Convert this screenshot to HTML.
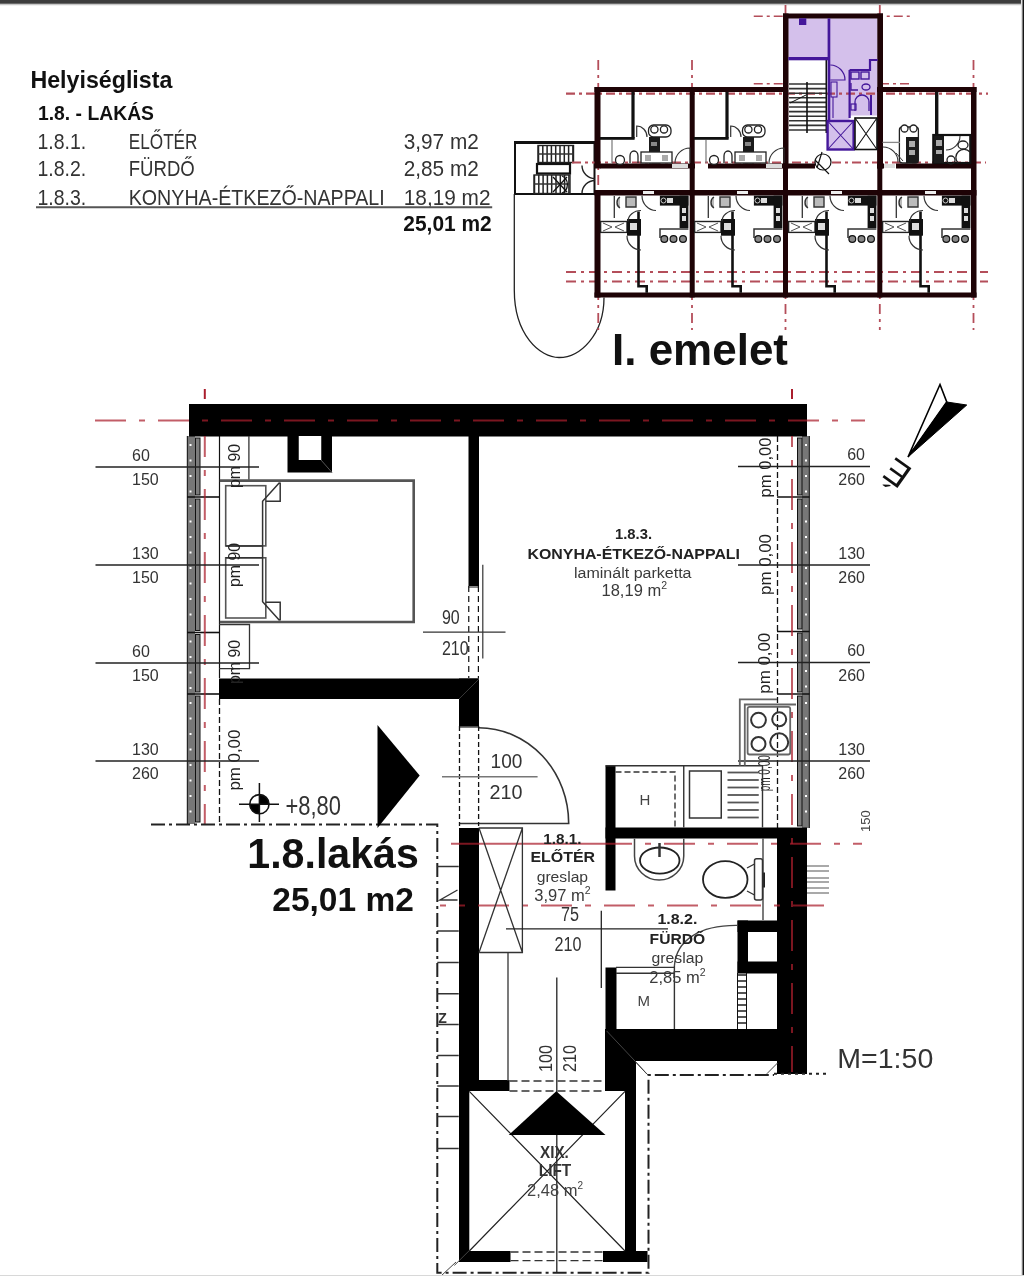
<!DOCTYPE html>
<html><head><meta charset="utf-8">
<style>
html,body{margin:0;padding:0;background:#fff;}
body{width:1024px;height:1276px;position:relative;overflow:hidden;font-family:"Liberation Sans",sans-serif;}
#topbar{position:absolute;left:0;top:0;width:1024px;height:6px;background:linear-gradient(#3d3d3d 0px,#3d3d3d 3px,#6a6a6a 3px,#6a6a6a 4px,#c8c8c8 4px,#c8c8c8 5px,#f0f0f0 5px,#f0f0f0 6px);}
#topsh{display:none;}
#rbar{position:absolute;right:0;top:0;width:3px;height:1276px;background:linear-gradient(90deg,#e0e0e0 0px,#e0e0e0 1px,#808080 1px,#808080 2px,#151515 2px,#151515 3px);}
#bline{position:absolute;left:0;bottom:0;width:1024px;height:1px;background:#d8d8d8;}
svg{position:absolute;left:0;top:0;filter:blur(0.45px);}
</style></head><body>
<div id="topbar"></div><div id="topsh"></div>
<svg width="1024" height="1276" viewBox="0 0 1024 1276">
<rect x="788.30" y="18.30" width="39.70" height="39.20" fill="#d4c0eb" />
<rect x="830.00" y="18.30" width="47.60" height="51.70" fill="#d4c0eb" />
<rect x="830.00" y="57.00" width="19.60" height="64.00" fill="#d4c0eb" />
<rect x="849.00" y="70.00" width="28.60" height="45.50" fill="#d4c0eb" />
<rect x="827.60" y="121.00" width="26.00" height="28.50" fill="#d4c0eb" />
<rect x="515" y="142" width="79.5" height="52" fill="none" stroke="#111" stroke-width="2"/>
<rect x="538" y="145.5" width="35.5" height="17" fill="#fff" stroke="#222" stroke-width="1.4"/>
<line x1="538.50" y1="145.50" x2="538.50" y2="162.50" stroke="#222" stroke-width="1.5" />
<line x1="542.80" y1="145.50" x2="542.80" y2="162.50" stroke="#222" stroke-width="1.5" />
<line x1="547.10" y1="145.50" x2="547.10" y2="162.50" stroke="#222" stroke-width="1.5" />
<line x1="551.40" y1="145.50" x2="551.40" y2="162.50" stroke="#222" stroke-width="1.5" />
<line x1="555.70" y1="145.50" x2="555.70" y2="162.50" stroke="#222" stroke-width="1.5" />
<line x1="560.00" y1="145.50" x2="560.00" y2="162.50" stroke="#222" stroke-width="1.5" />
<line x1="564.30" y1="145.50" x2="564.30" y2="162.50" stroke="#222" stroke-width="1.5" />
<line x1="568.60" y1="145.50" x2="568.60" y2="162.50" stroke="#222" stroke-width="1.5" />
<line x1="572.90" y1="145.50" x2="572.90" y2="162.50" stroke="#222" stroke-width="1.5" />
<line x1="538.00" y1="154.00" x2="573.50" y2="154.00" stroke="#333" stroke-width="1.3" />
<rect x="537.00" y="164.00" width="33.00" height="9.50" fill="#fff" stroke="#111" stroke-width="2.2"/>
<rect x="534" y="175" width="36" height="18.5" fill="#fff" stroke="#222" stroke-width="1.4"/>
<line x1="534.50" y1="175.00" x2="534.50" y2="193.50" stroke="#222" stroke-width="1.5" />
<line x1="538.80" y1="175.00" x2="538.80" y2="193.50" stroke="#222" stroke-width="1.5" />
<line x1="543.10" y1="175.00" x2="543.10" y2="193.50" stroke="#222" stroke-width="1.5" />
<line x1="547.40" y1="175.00" x2="547.40" y2="193.50" stroke="#222" stroke-width="1.5" />
<line x1="551.70" y1="175.00" x2="551.70" y2="193.50" stroke="#222" stroke-width="1.5" />
<line x1="556.00" y1="175.00" x2="556.00" y2="193.50" stroke="#222" stroke-width="1.5" />
<line x1="560.30" y1="175.00" x2="560.30" y2="193.50" stroke="#222" stroke-width="1.5" />
<line x1="564.60" y1="175.00" x2="564.60" y2="193.50" stroke="#222" stroke-width="1.5" />
<line x1="568.90" y1="175.00" x2="568.90" y2="193.50" stroke="#222" stroke-width="1.5" />
<line x1="534.00" y1="184.00" x2="570.00" y2="184.00" stroke="#333" stroke-width="1.3" />
<path d="M553,177 L567,192 M567,177 L553,192 M562,176 A8,9 0 0 1 562,193" stroke="#111" stroke-width="1.3" fill="none"/>
<line x1="515.00" y1="142.50" x2="594.50" y2="142.50" stroke="#111" stroke-width="3" />
<path d="M582,165.5 A13,13 0 0 0 595,178.5 M582,193.5 A13,13 0 0 1 595,180.5" stroke="#222" stroke-width="1.4" fill="none"/>
<path d="M514.3,194 V290 C514.3,335 540,357.5 559,357.5 C580,357.5 604,335 604,297.5" stroke="#222" stroke-width="1.3" fill="none"/>
<line x1="753.75" y1="16.25" x2="912.50" y2="16.25" stroke="#b44e5a" stroke-width="1.6" stroke-dasharray="9 4 3 4"/>
<line x1="753.75" y1="83.75" x2="785.00" y2="83.75" stroke="#b44e5a" stroke-width="1.6" stroke-dasharray="9 4 3 4"/>
<line x1="880.00" y1="83.75" x2="912.50" y2="83.75" stroke="#b44e5a" stroke-width="1.6" stroke-dasharray="9 4 3 4"/>
<line x1="566.00" y1="93.60" x2="988.00" y2="93.60" stroke="#b44e5a" stroke-width="2.2" stroke-dasharray="9 4 3 4"/>
<line x1="572.00" y1="162.50" x2="986.00" y2="162.50" stroke="#b44e5a" stroke-width="1.8" stroke-dasharray="9 4 3 4"/>
<line x1="566.00" y1="272.00" x2="988.00" y2="272.00" stroke="#b44e5a" stroke-width="1.8" stroke-dasharray="10 5 3 5"/>
<line x1="566.00" y1="281.50" x2="988.00" y2="281.50" stroke="#b44e5a" stroke-width="1.8" stroke-dasharray="10 5 3 5"/>
<line x1="598.25" y1="60.00" x2="598.25" y2="330.00" stroke="#b44e5a" stroke-width="1.8" stroke-dasharray="10 5 3 5"/>
<line x1="692.00" y1="60.00" x2="692.00" y2="330.00" stroke="#b44e5a" stroke-width="1.8" stroke-dasharray="10 5 3 5"/>
<line x1="785.50" y1="5.00" x2="785.50" y2="330.00" stroke="#b44e5a" stroke-width="1.8" stroke-dasharray="10 5 3 5"/>
<line x1="879.80" y1="5.00" x2="879.80" y2="330.00" stroke="#b44e5a" stroke-width="1.8" stroke-dasharray="10 5 3 5"/>
<line x1="973.50" y1="60.00" x2="973.50" y2="330.00" stroke="#b44e5a" stroke-width="1.8" stroke-dasharray="10 5 3 5"/>
<rect x="594.50" y="87.00" width="193.50" height="5.00" fill="#1e0306" />
<rect x="877.00" y="87.00" width="99.50" height="5.00" fill="#1e0306" />
<rect x="783.00" y="13.50" width="100.00" height="5.00" fill="#1e0306" />
<rect x="783.00" y="13.50" width="5.50" height="155.00" fill="#1e0306" />
<rect x="877.30" y="13.50" width="5.70" height="155.00" fill="#1e0306" />
<rect x="594.50" y="87.00" width="6.00" height="81.50" fill="#1e0306" />
<rect x="594.50" y="190.00" width="6.00" height="107.50" fill="#1e0306" />
<rect x="971.00" y="87.00" width="5.50" height="210.50" fill="#1e0306" />
<rect x="594.50" y="292.50" width="382.00" height="5.00" fill="#1e0306" />
<rect x="600.00" y="163.50" width="95.00" height="5.00" fill="#1e0306" />
<rect x="708.00" y="163.50" width="80.00" height="5.00" fill="#1e0306" />
<rect x="788.00" y="163.50" width="27.00" height="5.00" fill="#1e0306" />
<rect x="877.00" y="163.50" width="7.00" height="5.00" fill="#1e0306" />
<rect x="896.00" y="163.50" width="80.00" height="5.00" fill="#1e0306" />
<rect x="594.50" y="190.00" width="382.00" height="5.50" fill="#1e0306" />
<rect x="689.70" y="87.00" width="5.00" height="210.50" fill="#1e0306" />
<rect x="783.00" y="87.00" width="5.00" height="210.50" fill="#1e0306" />
<rect x="877.30" y="87.00" width="5.00" height="210.50" fill="#1e0306" />
<rect x="631.40" y="92.00" width="3.20" height="46.50" fill="#111" />
<rect x="600.00" y="137.00" width="34.60" height="2.80" fill="#111" />
<line x1="612.00" y1="140.00" x2="612.00" y2="163.00" stroke="#777" stroke-width="1.2" />
<path d="M636.7,137 V126 A10.3,11 0 0 1 647,137" transform="translate(0,0)" stroke="#333" stroke-width="1.2" fill="none"/>
<rect x="648.5" y="125" width="22.5" height="12" rx="5" fill="#fff" stroke="#222" stroke-width="1.3"/>
<circle cx="654.4" cy="129.4" r="3.6" fill="#fff" stroke="#222" stroke-width="1.3"/>
<circle cx="664" cy="129.4" r="3.6" fill="#fff" stroke="#222" stroke-width="1.3"/>
<rect x="649.00" y="137.00" width="11.00" height="26.50" fill="#1a1a1a" />
<rect x="651.00" y="142.00" width="6.00" height="4.00" fill="#888" />
<path d="M675,163 A15,15 0 0 1 690,148 V163" transform="translate(0,0)" stroke="#333" stroke-width="1.1" fill="none"/>
<rect x="641" y="152" width="31" height="11" fill="#fff" stroke="#222" stroke-width="1.3"/>
<rect x="645.00" y="155.00" width="6.00" height="6.00" fill="#aaa" />
<rect x="662.00" y="155.00" width="6.00" height="6.00" fill="#aaa" />
<circle cx="620" cy="160" r="4.5" fill="#fff" stroke="#222" stroke-width="1.3"/>
<path d="M630,163 V156 A4,5 0 0 1 638,156 V163" transform="translate(0,0)" stroke="#222" stroke-width="1.3" fill="none"/>
<rect x="672.00" y="164.00" width="16.00" height="4.00" fill="#ddd" />
<rect x="725.40" y="92.00" width="3.20" height="46.50" fill="#111" />
<rect x="694.00" y="137.00" width="34.60" height="2.80" fill="#111" />
<line x1="706.00" y1="140.00" x2="706.00" y2="163.00" stroke="#777" stroke-width="1.2" />
<path d="M636.7,137 V126 A10.3,11 0 0 1 647,137" transform="translate(94,0)" stroke="#333" stroke-width="1.2" fill="none"/>
<rect x="742.5" y="125" width="22.5" height="12" rx="5" fill="#fff" stroke="#222" stroke-width="1.3"/>
<circle cx="748.4" cy="129.4" r="3.6" fill="#fff" stroke="#222" stroke-width="1.3"/>
<circle cx="758" cy="129.4" r="3.6" fill="#fff" stroke="#222" stroke-width="1.3"/>
<rect x="743.00" y="137.00" width="11.00" height="26.50" fill="#1a1a1a" />
<rect x="745.00" y="142.00" width="6.00" height="4.00" fill="#888" />
<path d="M675,163 A15,15 0 0 1 690,148 V163" transform="translate(94,0)" stroke="#333" stroke-width="1.1" fill="none"/>
<rect x="735" y="152" width="31" height="11" fill="#fff" stroke="#222" stroke-width="1.3"/>
<rect x="739.00" y="155.00" width="6.00" height="6.00" fill="#aaa" />
<rect x="756.00" y="155.00" width="6.00" height="6.00" fill="#aaa" />
<circle cx="714" cy="160" r="4.5" fill="#fff" stroke="#222" stroke-width="1.3"/>
<path d="M630,163 V156 A4,5 0 0 1 638,156 V163" transform="translate(94,0)" stroke="#222" stroke-width="1.3" fill="none"/>
<rect x="766.00" y="164.00" width="16.00" height="4.00" fill="#ddd" />
<rect x="935.00" y="92.00" width="3.40" height="45.00" fill="#111" />
<rect x="933.3" y="135" width="37" height="28" fill="none" stroke="#111" stroke-width="2.2"/>
<rect x="934.00" y="136.00" width="10.00" height="27.00" fill="#1a1a1a" />
<rect x="936.00" y="140.00" width="6.00" height="6.00" fill="#aaa" />
<rect x="936.00" y="150.00" width="6.00" height="4.00" fill="#aaa" />
<path d="M946,150 A14,14 0 0 0 960,136" stroke="#333" stroke-width="1.1" fill="none"/>
<ellipse cx="963" cy="145" rx="5" ry="4" fill="#fff" stroke="#222" stroke-width="1.3"/>
<path d="M958,163 A8,8 0 0 1 970,152" stroke="#222" stroke-width="1.3" fill="none"/>
<circle cx="951" cy="160" r="4" fill="none" stroke="#222" stroke-width="1.3"/>
<rect x="899.4" y="127" width="19" height="36" rx="3" fill="#fff" stroke="#222" stroke-width="1.3"/>
<circle cx="904.5" cy="128.5" r="3.5" fill="#fff" stroke="#222" stroke-width="1.3"/>
<circle cx="913.5" cy="128.5" r="3.5" fill="#fff" stroke="#222" stroke-width="1.3"/>
<rect x="906.00" y="137.00" width="12.40" height="26.00" fill="#1a1a1a" />
<rect x="909.00" y="141.00" width="6.00" height="6.00" fill="#aaa" />
<rect x="909.00" y="150.00" width="6.00" height="5.00" fill="#aaa" />
<path d="M882.7,147 A15,15 0 0 1 898,162.4" stroke="#333" stroke-width="1.1" fill="none"/>
<line x1="882.50" y1="142.40" x2="900.00" y2="142.40" stroke="#888" stroke-width="1.3" />
<rect x="884.00" y="164.00" width="11.00" height="4.00" fill="#ddd" />
<path d="M896,153 L903,161" stroke="#333" stroke-width="1"/>
<line x1="789.00" y1="84.00" x2="826.00" y2="84.00" stroke="#333" stroke-width="1.6" />
<line x1="789.00" y1="88.60" x2="826.00" y2="88.60" stroke="#333" stroke-width="1.6" />
<line x1="789.00" y1="93.20" x2="826.00" y2="93.20" stroke="#333" stroke-width="1.6" />
<line x1="789.00" y1="97.80" x2="826.00" y2="97.80" stroke="#333" stroke-width="1.6" />
<line x1="789.00" y1="102.40" x2="826.00" y2="102.40" stroke="#333" stroke-width="1.6" />
<line x1="789.00" y1="107.00" x2="826.00" y2="107.00" stroke="#333" stroke-width="1.6" />
<line x1="789.00" y1="111.60" x2="826.00" y2="111.60" stroke="#333" stroke-width="1.6" />
<line x1="789.00" y1="116.20" x2="826.00" y2="116.20" stroke="#333" stroke-width="1.6" />
<line x1="789.00" y1="120.80" x2="826.00" y2="120.80" stroke="#333" stroke-width="1.6" />
<line x1="789.00" y1="125.40" x2="826.00" y2="125.40" stroke="#333" stroke-width="1.6" />
<line x1="789.00" y1="130.00" x2="826.00" y2="130.00" stroke="#333" stroke-width="1.6" />
<line x1="807.00" y1="82.00" x2="807.00" y2="133.00" stroke="#111" stroke-width="1.6" />
<line x1="826.30" y1="60.00" x2="826.30" y2="133.00" stroke="#111" stroke-width="1.6" />
<path d="M790,103 L806,95" stroke="#111" stroke-width="1"/>
<rect x="788.30" y="57.00" width="39.70" height="3.30" fill="#44179a" />
<rect x="827.60" y="18.30" width="2.70" height="102.70" fill="#44179a" />
<rect x="827.6" y="121" width="26" height="28.5" fill="none" stroke="#44179a" stroke-width="2.4"/>
<path d="M827.6,121 L853.6,149.5 M853.6,121 L827.6,149.5" stroke="#44179a" stroke-width="1.1"/>
<rect x="855" y="118" width="22" height="31.5" fill="#fff" stroke="#111" stroke-width="1.6"/>
<path d="M855,118 L877,149.5 M877,118 L855,149.5" stroke="#111" stroke-width="1.1"/>
<path d="M849.6,70 H870 V60 H877.6 M849.6,70 V118" stroke="#44179a" stroke-width="2.2" fill="none"/>
<rect x="851" y="72" width="8" height="7" fill="none" stroke="#44179a" stroke-width="1.4"/>
<rect x="861" y="72" width="8" height="7" fill="none" stroke="#44179a" stroke-width="1.4"/>
<path d="M851,83 V90 H858 M862,87 A4,3 0 1 0 870,87 A4,3 0 1 0 862,87" stroke="#44179a" stroke-width="1.3" fill="none"/>
<path d="M855,111 V102 A7,7 0 0 1 869,102 V111" stroke="#44179a" stroke-width="1.3" fill="none"/>
<rect x="851" y="104" width="5" height="6" fill="none" stroke="#44179a" stroke-width="1.2"/>
<path d="M871,95 V115" stroke="#44179a" stroke-width="2"/>
<path d="M830.3,65 A15,15 0 0 1 845,80 H830.3" stroke="#44179a" stroke-width="1.2" fill="none"/>
<rect x="831" y="82" width="6" height="15" fill="none" stroke="#44179a" stroke-width="1.1"/>
<line x1="833.00" y1="97.00" x2="833.00" y2="118.00" stroke="#44179a" stroke-width="1.1" />
<rect x="799.00" y="18.30" width="7.30" height="6.70" fill="#44179a" />
<circle cx="823" cy="162" r="8" fill="#fff" stroke="#111" stroke-width="1.2"/>
<path d="M815,160 L829,174 M817,168 L822,152" stroke="#111" stroke-width="1.2"/>
<path d="M638.5,211.6 V286.2 H646.7 V292.8" transform="translate(0,0)" stroke="#111" stroke-width="2.6" fill="none"/>
<line x1="614.30" y1="196.00" x2="614.30" y2="218.00" stroke="#333" stroke-width="1.3" />
<path d="M620,208 A5,6 0 0 1 620,197 M626,197 H636 V207 H626 Z" transform="translate(0,0)" stroke="#333" stroke-width="1.4" fill="#bbb"/>
<rect x="600.60" y="221.50" width="26.40" height="10.90" fill="#fff" stroke="#222" stroke-width="1.4"/>
<path d="M603,223 L612,227 L603,231 M624,223 L615,227 L624,231" transform="translate(0,0)" stroke="#555" stroke-width="1" fill="none"/>
<rect x="627.00" y="219.00" width="14.00" height="16.70" fill="#111" />
<rect x="630.00" y="223.00" width="7.00" height="7.00" fill="#ddd" />
<path d="M642,195.7 A14,15 0 0 0 656,210.5 M641,210.5 A13,11 0 0 0 628,221.5 M641,250 A14,14 0 0 1 627,235.7" transform="translate(0,0)" stroke="#333" stroke-width="1.2" fill="none"/>
<rect x="659.90" y="195.70" width="28.50" height="9.90" fill="#111" />
<rect x="679.60" y="195.70" width="8.80" height="32.30" fill="#111" />
<rect x="667.00" y="198.00" width="6.00" height="5.00" fill="#ddd" />
<rect x="682.00" y="208.00" width="4.00" height="5.00" fill="#ddd" />
<rect x="682.00" y="216.00" width="4.00" height="5.00" fill="#ddd" />
<circle cx="663.5" cy="200.5" r="2.5" fill="none" stroke="#ccc" stroke-width="1"/>
<path d="M660,238 V229 H688.4" transform="translate(0,0)" stroke="#333" stroke-width="1.5" fill="none"/>
<circle cx="664.3" cy="239" r="3.4" fill="#888" stroke="#111" stroke-width="1.2"/>
<circle cx="673.5" cy="239" r="3.4" fill="#888" stroke="#111" stroke-width="1.2"/>
<circle cx="683" cy="239" r="3.4" fill="#888" stroke="#111" stroke-width="1.2"/>
<rect x="643.00" y="191.00" width="11.00" height="3.00" fill="#eee" />
<path d="M638.5,211.6 V286.2 H646.7 V292.8" transform="translate(94,0)" stroke="#111" stroke-width="2.6" fill="none"/>
<line x1="708.30" y1="196.00" x2="708.30" y2="218.00" stroke="#333" stroke-width="1.3" />
<path d="M620,208 A5,6 0 0 1 620,197 M626,197 H636 V207 H626 Z" transform="translate(94,0)" stroke="#333" stroke-width="1.4" fill="#bbb"/>
<rect x="694.60" y="221.50" width="26.40" height="10.90" fill="#fff" stroke="#222" stroke-width="1.4"/>
<path d="M603,223 L612,227 L603,231 M624,223 L615,227 L624,231" transform="translate(94,0)" stroke="#555" stroke-width="1" fill="none"/>
<rect x="721.00" y="219.00" width="14.00" height="16.70" fill="#111" />
<rect x="724.00" y="223.00" width="7.00" height="7.00" fill="#ddd" />
<path d="M642,195.7 A14,15 0 0 0 656,210.5 M641,210.5 A13,11 0 0 0 628,221.5 M641,250 A14,14 0 0 1 627,235.7" transform="translate(94,0)" stroke="#333" stroke-width="1.2" fill="none"/>
<rect x="753.90" y="195.70" width="28.50" height="9.90" fill="#111" />
<rect x="773.60" y="195.70" width="8.80" height="32.30" fill="#111" />
<rect x="761.00" y="198.00" width="6.00" height="5.00" fill="#ddd" />
<rect x="776.00" y="208.00" width="4.00" height="5.00" fill="#ddd" />
<rect x="776.00" y="216.00" width="4.00" height="5.00" fill="#ddd" />
<circle cx="757.5" cy="200.5" r="2.5" fill="none" stroke="#ccc" stroke-width="1"/>
<path d="M660,238 V229 H688.4" transform="translate(94,0)" stroke="#333" stroke-width="1.5" fill="none"/>
<circle cx="758.3" cy="239" r="3.4" fill="#888" stroke="#111" stroke-width="1.2"/>
<circle cx="767.5" cy="239" r="3.4" fill="#888" stroke="#111" stroke-width="1.2"/>
<circle cx="777" cy="239" r="3.4" fill="#888" stroke="#111" stroke-width="1.2"/>
<rect x="737.00" y="191.00" width="11.00" height="3.00" fill="#eee" />
<path d="M638.5,211.6 V286.2 H646.7 V292.8" transform="translate(188,0)" stroke="#111" stroke-width="2.6" fill="none"/>
<line x1="802.30" y1="196.00" x2="802.30" y2="218.00" stroke="#333" stroke-width="1.3" />
<path d="M620,208 A5,6 0 0 1 620,197 M626,197 H636 V207 H626 Z" transform="translate(188,0)" stroke="#333" stroke-width="1.4" fill="#bbb"/>
<rect x="788.60" y="221.50" width="26.40" height="10.90" fill="#fff" stroke="#222" stroke-width="1.4"/>
<path d="M603,223 L612,227 L603,231 M624,223 L615,227 L624,231" transform="translate(188,0)" stroke="#555" stroke-width="1" fill="none"/>
<rect x="815.00" y="219.00" width="14.00" height="16.70" fill="#111" />
<rect x="818.00" y="223.00" width="7.00" height="7.00" fill="#ddd" />
<path d="M642,195.7 A14,15 0 0 0 656,210.5 M641,210.5 A13,11 0 0 0 628,221.5 M641,250 A14,14 0 0 1 627,235.7" transform="translate(188,0)" stroke="#333" stroke-width="1.2" fill="none"/>
<rect x="847.90" y="195.70" width="28.50" height="9.90" fill="#111" />
<rect x="867.60" y="195.70" width="8.80" height="32.30" fill="#111" />
<rect x="855.00" y="198.00" width="6.00" height="5.00" fill="#ddd" />
<rect x="870.00" y="208.00" width="4.00" height="5.00" fill="#ddd" />
<rect x="870.00" y="216.00" width="4.00" height="5.00" fill="#ddd" />
<circle cx="851.5" cy="200.5" r="2.5" fill="none" stroke="#ccc" stroke-width="1"/>
<path d="M660,238 V229 H688.4" transform="translate(188,0)" stroke="#333" stroke-width="1.5" fill="none"/>
<circle cx="852.3" cy="239" r="3.4" fill="#888" stroke="#111" stroke-width="1.2"/>
<circle cx="861.5" cy="239" r="3.4" fill="#888" stroke="#111" stroke-width="1.2"/>
<circle cx="871" cy="239" r="3.4" fill="#888" stroke="#111" stroke-width="1.2"/>
<rect x="831.00" y="191.00" width="11.00" height="3.00" fill="#eee" />
<path d="M638.5,211.6 V286.2 H646.7 V292.8" transform="translate(282,0)" stroke="#111" stroke-width="2.6" fill="none"/>
<line x1="896.30" y1="196.00" x2="896.30" y2="218.00" stroke="#333" stroke-width="1.3" />
<path d="M620,208 A5,6 0 0 1 620,197 M626,197 H636 V207 H626 Z" transform="translate(282,0)" stroke="#333" stroke-width="1.4" fill="#bbb"/>
<rect x="882.60" y="221.50" width="26.40" height="10.90" fill="#fff" stroke="#222" stroke-width="1.4"/>
<path d="M603,223 L612,227 L603,231 M624,223 L615,227 L624,231" transform="translate(282,0)" stroke="#555" stroke-width="1" fill="none"/>
<rect x="909.00" y="219.00" width="14.00" height="16.70" fill="#111" />
<rect x="912.00" y="223.00" width="7.00" height="7.00" fill="#ddd" />
<path d="M642,195.7 A14,15 0 0 0 656,210.5 M641,210.5 A13,11 0 0 0 628,221.5 M641,250 A14,14 0 0 1 627,235.7" transform="translate(282,0)" stroke="#333" stroke-width="1.2" fill="none"/>
<rect x="941.90" y="195.70" width="28.50" height="9.90" fill="#111" />
<rect x="961.60" y="195.70" width="8.80" height="32.30" fill="#111" />
<rect x="949.00" y="198.00" width="6.00" height="5.00" fill="#ddd" />
<rect x="964.00" y="208.00" width="4.00" height="5.00" fill="#ddd" />
<rect x="964.00" y="216.00" width="4.00" height="5.00" fill="#ddd" />
<circle cx="945.5" cy="200.5" r="2.5" fill="none" stroke="#ccc" stroke-width="1"/>
<path d="M660,238 V229 H688.4" transform="translate(282,0)" stroke="#333" stroke-width="1.5" fill="none"/>
<circle cx="946.3" cy="239" r="3.4" fill="#888" stroke="#111" stroke-width="1.2"/>
<circle cx="955.5" cy="239" r="3.4" fill="#888" stroke="#111" stroke-width="1.2"/>
<circle cx="965" cy="239" r="3.4" fill="#888" stroke="#111" stroke-width="1.2"/>
<rect x="925.00" y="191.00" width="11.00" height="3.00" fill="#eee" />
<text x="612.00" y="364.50" font-size="44" font-weight="bold" fill="#111" text-anchor="start" font-family="Liberation Sans" textLength="176" lengthAdjust="spacingAndGlyphs" >I. emelet</text>
<rect x="187.00" y="436.00" width="8.00" height="61.00" fill="#777777" />
<line x1="187.30" y1="436.00" x2="187.30" y2="497.00" stroke="#111" stroke-width="1" />
<rect x="195.50" y="438.00" width="4.50" height="57.00" fill="#7c7c7c" stroke="#111" stroke-width="1"/>
<rect x="189.50" y="444.00" width="2.00" height="2.00" fill="#fff" />
<rect x="189.50" y="459.50" width="2.00" height="2.00" fill="#fff" />
<rect x="189.50" y="475.00" width="2.00" height="2.00" fill="#fff" />
<rect x="189.50" y="490.50" width="2.00" height="2.00" fill="#fff" />
<rect x="187.00" y="497.00" width="8.00" height="135.50" fill="#777777" />
<line x1="187.30" y1="497.00" x2="187.30" y2="632.50" stroke="#111" stroke-width="1" />
<rect x="195.50" y="499.00" width="4.50" height="131.50" fill="#7c7c7c" stroke="#111" stroke-width="1"/>
<rect x="189.50" y="505.00" width="2.00" height="2.00" fill="#fff" />
<rect x="189.50" y="520.50" width="2.00" height="2.00" fill="#fff" />
<rect x="189.50" y="536.00" width="2.00" height="2.00" fill="#fff" />
<rect x="189.50" y="551.50" width="2.00" height="2.00" fill="#fff" />
<rect x="189.50" y="567.00" width="2.00" height="2.00" fill="#fff" />
<rect x="189.50" y="582.50" width="2.00" height="2.00" fill="#fff" />
<rect x="189.50" y="598.00" width="2.00" height="2.00" fill="#fff" />
<rect x="189.50" y="613.50" width="2.00" height="2.00" fill="#fff" />
<rect x="187.00" y="632.50" width="8.00" height="61.50" fill="#777777" />
<line x1="187.30" y1="632.50" x2="187.30" y2="694.00" stroke="#111" stroke-width="1" />
<rect x="195.50" y="634.50" width="4.50" height="57.50" fill="#7c7c7c" stroke="#111" stroke-width="1"/>
<rect x="189.50" y="640.50" width="2.00" height="2.00" fill="#fff" />
<rect x="189.50" y="656.00" width="2.00" height="2.00" fill="#fff" />
<rect x="189.50" y="671.50" width="2.00" height="2.00" fill="#fff" />
<rect x="189.50" y="687.00" width="2.00" height="2.00" fill="#fff" />
<rect x="187.00" y="694.00" width="8.00" height="130.00" fill="#777777" />
<line x1="187.30" y1="694.00" x2="187.30" y2="824.00" stroke="#111" stroke-width="1" />
<rect x="195.50" y="696.00" width="4.50" height="126.00" fill="#7c7c7c" stroke="#111" stroke-width="1"/>
<rect x="189.50" y="702.00" width="2.00" height="2.00" fill="#fff" />
<rect x="189.50" y="717.50" width="2.00" height="2.00" fill="#fff" />
<rect x="189.50" y="733.00" width="2.00" height="2.00" fill="#fff" />
<rect x="189.50" y="748.50" width="2.00" height="2.00" fill="#fff" />
<rect x="189.50" y="764.00" width="2.00" height="2.00" fill="#fff" />
<rect x="189.50" y="779.50" width="2.00" height="2.00" fill="#fff" />
<rect x="189.50" y="795.00" width="2.00" height="2.00" fill="#fff" />
<rect x="189.50" y="810.50" width="2.00" height="2.00" fill="#fff" />
<line x1="187.00" y1="497.00" x2="219.00" y2="497.00" stroke="#111" stroke-width="1.6" />
<line x1="187.00" y1="632.50" x2="219.00" y2="632.50" stroke="#111" stroke-width="1.6" />
<line x1="187.00" y1="694.00" x2="219.00" y2="694.00" stroke="#111" stroke-width="1.6" />
<line x1="219.50" y1="436.00" x2="219.50" y2="678.00" stroke="#111" stroke-width="1.2" />
<line x1="219.50" y1="699.00" x2="219.50" y2="824.00" stroke="#111" stroke-width="1.3" stroke-dasharray="6 3"/>
<rect x="802.00" y="436.00" width="7.50" height="61.00" fill="#777777" />
<line x1="809.30" y1="436.00" x2="809.30" y2="497.00" stroke="#111" stroke-width="1" />
<rect x="797.50" y="438.00" width="4.50" height="57.00" fill="#7c7c7c" stroke="#111" stroke-width="1"/>
<rect x="805.00" y="444.00" width="2.00" height="2.00" fill="#fff" />
<rect x="805.00" y="459.50" width="2.00" height="2.00" fill="#fff" />
<rect x="805.00" y="475.00" width="2.00" height="2.00" fill="#fff" />
<rect x="805.00" y="490.50" width="2.00" height="2.00" fill="#fff" />
<rect x="802.00" y="497.00" width="7.50" height="134.00" fill="#777777" />
<line x1="809.30" y1="497.00" x2="809.30" y2="631.00" stroke="#111" stroke-width="1" />
<rect x="797.50" y="499.00" width="4.50" height="130.00" fill="#7c7c7c" stroke="#111" stroke-width="1"/>
<rect x="805.00" y="505.00" width="2.00" height="2.00" fill="#fff" />
<rect x="805.00" y="520.50" width="2.00" height="2.00" fill="#fff" />
<rect x="805.00" y="536.00" width="2.00" height="2.00" fill="#fff" />
<rect x="805.00" y="551.50" width="2.00" height="2.00" fill="#fff" />
<rect x="805.00" y="567.00" width="2.00" height="2.00" fill="#fff" />
<rect x="805.00" y="582.50" width="2.00" height="2.00" fill="#fff" />
<rect x="805.00" y="598.00" width="2.00" height="2.00" fill="#fff" />
<rect x="805.00" y="613.50" width="2.00" height="2.00" fill="#fff" />
<rect x="802.00" y="631.00" width="7.50" height="63.00" fill="#777777" />
<line x1="809.30" y1="631.00" x2="809.30" y2="694.00" stroke="#111" stroke-width="1" />
<rect x="797.50" y="633.00" width="4.50" height="59.00" fill="#7c7c7c" stroke="#111" stroke-width="1"/>
<rect x="805.00" y="639.00" width="2.00" height="2.00" fill="#fff" />
<rect x="805.00" y="654.50" width="2.00" height="2.00" fill="#fff" />
<rect x="805.00" y="670.00" width="2.00" height="2.00" fill="#fff" />
<rect x="805.00" y="685.50" width="2.00" height="2.00" fill="#fff" />
<rect x="802.00" y="694.00" width="7.50" height="134.00" fill="#777777" />
<line x1="809.30" y1="694.00" x2="809.30" y2="828.00" stroke="#111" stroke-width="1" />
<rect x="797.50" y="696.00" width="4.50" height="130.00" fill="#7c7c7c" stroke="#111" stroke-width="1"/>
<rect x="805.00" y="702.00" width="2.00" height="2.00" fill="#fff" />
<rect x="805.00" y="717.50" width="2.00" height="2.00" fill="#fff" />
<rect x="805.00" y="733.00" width="2.00" height="2.00" fill="#fff" />
<rect x="805.00" y="748.50" width="2.00" height="2.00" fill="#fff" />
<rect x="805.00" y="764.00" width="2.00" height="2.00" fill="#fff" />
<rect x="805.00" y="779.50" width="2.00" height="2.00" fill="#fff" />
<rect x="805.00" y="795.00" width="2.00" height="2.00" fill="#fff" />
<rect x="805.00" y="810.50" width="2.00" height="2.00" fill="#fff" />
<line x1="777.00" y1="497.00" x2="809.50" y2="497.00" stroke="#111" stroke-width="1.6" />
<line x1="777.00" y1="631.50" x2="809.50" y2="631.50" stroke="#111" stroke-width="1.6" />
<line x1="777.00" y1="694.00" x2="809.50" y2="694.00" stroke="#111" stroke-width="1.6" />
<line x1="777.50" y1="436.00" x2="777.50" y2="828.00" stroke="#111" stroke-width="1.3" stroke-dasharray="6 3"/>
<rect x="189.00" y="404.00" width="618.00" height="32.50" fill="#000" />
<rect x="468.50" y="436.00" width="10.50" height="150.00" fill="#000" />
<rect x="287.50" y="436.00" width="44.50" height="36.50" fill="#000" />
<rect x="298.75" y="436.00" width="22.50" height="24.00" fill="#fff" />
<line x1="321.00" y1="460.00" x2="332.00" y2="472.50" stroke="#555" stroke-width="1" />
<rect x="219.00" y="678.50" width="260.00" height="20.50" fill="#000" />
<rect x="459.00" y="678.50" width="20.00" height="48.00" fill="#000" />
<line x1="459.00" y1="699.00" x2="479.00" y2="679.00" stroke="#444" stroke-width="0.8" />
<line x1="468.75" y1="586.00" x2="468.75" y2="678.00" stroke="#111" stroke-width="1.2" stroke-dasharray="6 4"/>
<line x1="478.40" y1="586.00" x2="478.40" y2="678.00" stroke="#111" stroke-width="1.2" stroke-dasharray="6 4"/>
<line x1="468.75" y1="587.00" x2="478.40" y2="587.00" stroke="#111" stroke-width="1" />
<line x1="482.80" y1="564.70" x2="482.80" y2="658.40" stroke="#333" stroke-width="1.2" />
<rect x="459.00" y="828.00" width="20.00" height="263.00" fill="#000" />
<rect x="459.00" y="1080.00" width="50.50" height="11.00" fill="#000" />
<rect x="459.00" y="1091.00" width="10.30" height="171.00" fill="#000" />
<rect x="605.00" y="1029.00" width="31.00" height="62.00" fill="#000" />
<rect x="625.00" y="1091.00" width="11.00" height="171.00" fill="#000" />
<rect x="459.00" y="1251.00" width="51.50" height="11.00" fill="#000" />
<rect x="603.00" y="1251.00" width="44.50" height="11.00" fill="#000" />
<rect x="605.50" y="765.50" width="10.00" height="125.00" fill="#000" />
<rect x="605.50" y="827.50" width="171.50" height="11.00" fill="#000" />
<rect x="777.00" y="827.50" width="30.00" height="246.50" fill="#000" />
<rect x="605.50" y="967.50" width="11.00" height="61.50" fill="#000" />
<rect x="605.50" y="1029.00" width="172.00" height="32.00" fill="#000" />
<rect x="737.50" y="920.50" width="39.50" height="11.50" fill="#000" />
<rect x="737.50" y="920.50" width="10.50" height="52.50" fill="#000" />
<rect x="737.50" y="961.50" width="39.50" height="12.00" fill="#000" />
<line x1="738.00" y1="975.00" x2="746.00" y2="975.00" stroke="#555" stroke-width="2" />
<line x1="738.00" y1="981.00" x2="746.00" y2="981.00" stroke="#555" stroke-width="2" />
<line x1="738.00" y1="987.00" x2="746.00" y2="987.00" stroke="#555" stroke-width="2" />
<line x1="738.00" y1="993.00" x2="746.00" y2="993.00" stroke="#555" stroke-width="2" />
<line x1="738.00" y1="999.00" x2="746.00" y2="999.00" stroke="#555" stroke-width="2" />
<line x1="738.00" y1="1005.00" x2="746.00" y2="1005.00" stroke="#555" stroke-width="2" />
<line x1="738.00" y1="1011.00" x2="746.00" y2="1011.00" stroke="#555" stroke-width="2" />
<line x1="738.00" y1="1017.00" x2="746.00" y2="1017.00" stroke="#555" stroke-width="2" />
<line x1="738.00" y1="1023.00" x2="746.00" y2="1023.00" stroke="#555" stroke-width="2" />
<line x1="737.50" y1="973.00" x2="737.50" y2="1029.00" stroke="#111" stroke-width="1" />
<line x1="746.50" y1="973.00" x2="746.50" y2="1029.00" stroke="#111" stroke-width="1" />
<line x1="95.00" y1="420.50" x2="865.00" y2="420.50" stroke="#aa1e2d" stroke-width="2" stroke-dasharray="31 13 6 13" stroke-dashoffset="0" stroke-opacity="0.72"/>
<line x1="204.80" y1="389.00" x2="204.80" y2="404.00" stroke="#aa1e2d" stroke-width="2" stroke-dasharray="10 5"/>
<line x1="204.80" y1="436.00" x2="204.80" y2="824.00" stroke="#aa1e2d" stroke-width="2" stroke-dasharray="31 13 6 13" stroke-dashoffset="10" stroke-opacity="0.72"/>
<line x1="792.00" y1="389.00" x2="792.00" y2="404.00" stroke="#aa1e2d" stroke-width="2" stroke-dasharray="10 5"/>
<line x1="792.00" y1="436.00" x2="792.00" y2="1072.00" stroke="#aa1e2d" stroke-width="2" stroke-dasharray="31 13 6 13" stroke-dashoffset="20" stroke-opacity="0.72"/>
<line x1="451.00" y1="843.75" x2="606.00" y2="843.75" stroke="#aa1e2d" stroke-width="2" stroke-opacity="0.72"/>
<line x1="606.00" y1="843.75" x2="862.00" y2="843.75" stroke="#aa1e2d" stroke-width="2" stroke-dasharray="31 13 6 13" stroke-dashoffset="5" stroke-opacity="0.72"/>
<line x1="440.00" y1="905.50" x2="829.00" y2="905.50" stroke="#aa1e2d" stroke-width="2" stroke-dasharray="31 13 6 13" stroke-dashoffset="25" stroke-opacity="0.72"/>
<path d="M219.8,480.6 H413.7 V622 H219.8" stroke="#555" stroke-width="2.6" fill="none"/>
<rect x="225.7" y="485.7" width="40.1" height="60.2" fill="none" stroke="#555" stroke-width="1.6"/>
<rect x="225.7" y="557.8" width="40.1" height="60.2" fill="none" stroke="#555" stroke-width="1.6"/>
<path d="M279.6,482.5 L262.6,501.3 V601.7 L279.6,620.5 M265.8,501.3 H280.2 V482.5 M265.8,602.3 H280.2 V620.5 M225.7,545.9 H262.6 M225.7,557.8 H262.6" stroke="#333" stroke-width="1.5" fill="none"/>
<path d="M248.9,436 V479.4 M219,624.5 H249.5 V668.7 H219" stroke="#333" stroke-width="1.3" fill="none"/>
<text transform="translate(239.50,488.00) rotate(-90)" font-size="16" font-weight="normal" fill="#222" font-family="Liberation Sans" textLength="44" lengthAdjust="spacingAndGlyphs">pm 90</text>
<text transform="translate(239.50,587.00) rotate(-90)" font-size="16" font-weight="normal" fill="#222" font-family="Liberation Sans" textLength="44" lengthAdjust="spacingAndGlyphs">pm 90</text>
<text transform="translate(239.50,684.00) rotate(-90)" font-size="16" font-weight="normal" fill="#222" font-family="Liberation Sans" textLength="44" lengthAdjust="spacingAndGlyphs">pm 90</text>
<text transform="translate(240.00,790.60) rotate(-90)" font-size="16.5" font-weight="normal" fill="#222" font-family="Liberation Sans" textLength="61" lengthAdjust="spacingAndGlyphs">pm 0,00</text>
<text transform="translate(771.00,497.50) rotate(-90)" font-size="16.5" font-weight="normal" fill="#222" font-family="Liberation Sans" textLength="60" lengthAdjust="spacingAndGlyphs">pm 0,00</text>
<text transform="translate(771.00,595.00) rotate(-90)" font-size="16.5" font-weight="normal" fill="#222" font-family="Liberation Sans" textLength="61" lengthAdjust="spacingAndGlyphs">pm 0,00</text>
<text transform="translate(770.00,693.75) rotate(-90)" font-size="16.5" font-weight="normal" fill="#222" font-family="Liberation Sans" textLength="61" lengthAdjust="spacingAndGlyphs">pm 0,00</text>
<text transform="translate(770.00,791.25) rotate(-90)" font-size="16.5" font-weight="normal" fill="#222" font-family="Liberation Sans" textLength="36" lengthAdjust="spacingAndGlyphs">pm 0,00</text>
<line x1="95.50" y1="467.00" x2="259.00" y2="467.00" stroke="#222" stroke-width="1.3" />
<text x="132.00" y="460.50" font-size="16" font-weight="normal" fill="#333" text-anchor="start" font-family="Liberation Sans" >60</text>
<text x="132.00" y="485.00" font-size="16" font-weight="normal" fill="#333" text-anchor="start" font-family="Liberation Sans" >150</text>
<line x1="95.50" y1="565.00" x2="259.00" y2="565.00" stroke="#222" stroke-width="1.3" />
<text x="132.00" y="558.50" font-size="16" font-weight="normal" fill="#333" text-anchor="start" font-family="Liberation Sans" >130</text>
<text x="132.00" y="583.00" font-size="16" font-weight="normal" fill="#333" text-anchor="start" font-family="Liberation Sans" >150</text>
<line x1="95.50" y1="663.00" x2="259.00" y2="663.00" stroke="#222" stroke-width="1.3" />
<text x="132.00" y="656.50" font-size="16" font-weight="normal" fill="#333" text-anchor="start" font-family="Liberation Sans" >60</text>
<text x="132.00" y="681.00" font-size="16" font-weight="normal" fill="#333" text-anchor="start" font-family="Liberation Sans" >150</text>
<line x1="95.50" y1="761.00" x2="259.00" y2="761.00" stroke="#222" stroke-width="1.3" />
<text x="132.00" y="754.50" font-size="16" font-weight="normal" fill="#333" text-anchor="start" font-family="Liberation Sans" >130</text>
<text x="132.00" y="779.00" font-size="16" font-weight="normal" fill="#333" text-anchor="start" font-family="Liberation Sans" >260</text>
<line x1="738.00" y1="466.50" x2="870.00" y2="466.50" stroke="#222" stroke-width="1.3" />
<text x="865.00" y="460.00" font-size="16" font-weight="normal" fill="#333" text-anchor="end" font-family="Liberation Sans" >60</text>
<text x="865.00" y="484.50" font-size="16" font-weight="normal" fill="#333" text-anchor="end" font-family="Liberation Sans" >260</text>
<line x1="738.00" y1="565.00" x2="870.00" y2="565.00" stroke="#222" stroke-width="1.3" />
<text x="865.00" y="558.50" font-size="16" font-weight="normal" fill="#333" text-anchor="end" font-family="Liberation Sans" >130</text>
<text x="865.00" y="583.00" font-size="16" font-weight="normal" fill="#333" text-anchor="end" font-family="Liberation Sans" >260</text>
<line x1="738.00" y1="662.50" x2="870.00" y2="662.50" stroke="#222" stroke-width="1.3" />
<text x="865.00" y="656.00" font-size="16" font-weight="normal" fill="#333" text-anchor="end" font-family="Liberation Sans" >60</text>
<text x="865.00" y="680.50" font-size="16" font-weight="normal" fill="#333" text-anchor="end" font-family="Liberation Sans" >260</text>
<line x1="738.00" y1="761.00" x2="870.00" y2="761.00" stroke="#222" stroke-width="1.3" />
<text x="865.00" y="754.50" font-size="16" font-weight="normal" fill="#333" text-anchor="end" font-family="Liberation Sans" >130</text>
<text x="865.00" y="779.00" font-size="16" font-weight="normal" fill="#333" text-anchor="end" font-family="Liberation Sans" >260</text>
<line x1="423.00" y1="632.20" x2="505.50" y2="632.20" stroke="#333" stroke-width="1.3" />
<text x="441.90" y="624.00" font-size="19.5" font-weight="normal" fill="#333" text-anchor="start" font-family="Liberation Sans" textLength="17.8" lengthAdjust="spacingAndGlyphs" >90</text>
<text x="441.90" y="654.50" font-size="19.5" font-weight="normal" fill="#333" text-anchor="start" font-family="Liberation Sans" textLength="26.8" lengthAdjust="spacingAndGlyphs" >210</text>
<path d="M478.6,727.7 A90.1,95.8 0 0 1 568.7,823.5 H459.5" stroke="#333" stroke-width="1.6" fill="none"/>
<line x1="459.50" y1="727.00" x2="478.60" y2="727.00" stroke="#333" stroke-width="1.3" />
<line x1="459.50" y1="726.00" x2="459.50" y2="826.00" stroke="#111" stroke-width="1.3" stroke-dasharray="5 3"/>
<line x1="478.60" y1="726.00" x2="478.60" y2="826.00" stroke="#111" stroke-width="1.3" stroke-dasharray="5 3"/>
<line x1="442.00" y1="776.80" x2="537.60" y2="776.80" stroke="#777" stroke-width="1.6" />
<text x="490.60" y="767.70" font-size="20" font-weight="normal" fill="#333" text-anchor="start" font-family="Liberation Sans" textLength="31.8" lengthAdjust="spacingAndGlyphs" >100</text>
<text x="489.40" y="799.40" font-size="20" font-weight="normal" fill="#333" text-anchor="start" font-family="Liberation Sans" textLength="33" lengthAdjust="spacingAndGlyphs" >210</text>
<path d="M478.6,828 H522.4 V952.5 H479 M479,828 L522.4,952.5 M522.4,828 L479,952.5" stroke="#333" stroke-width="1.3" fill="none"/>
<line x1="508.00" y1="952.50" x2="508.00" y2="1081.00" stroke="#333" stroke-width="1.3" />
<line x1="506.00" y1="928.80" x2="668.00" y2="928.80" stroke="#222" stroke-width="1.3" />
<text x="570.00" y="921.00" font-size="19.5" font-weight="normal" fill="#333" text-anchor="middle" font-family="Liberation Sans" textLength="18" lengthAdjust="spacingAndGlyphs" >75</text>
<text x="568.00" y="951.00" font-size="19.5" font-weight="normal" fill="#333" text-anchor="middle" font-family="Liberation Sans" textLength="27" lengthAdjust="spacingAndGlyphs" >210</text>
<line x1="601.30" y1="910.70" x2="601.30" y2="988.00" stroke="#222" stroke-width="1.3" />
<line x1="556.80" y1="977.50" x2="556.80" y2="1272.00" stroke="#222" stroke-width="1.3" />
<text transform="translate(552.00,1072.00) rotate(-90)" font-size="19" font-weight="normal" fill="#333" font-family="Liberation Sans" textLength="27" lengthAdjust="spacingAndGlyphs">100</text>
<text transform="translate(576.00,1072.00) rotate(-90)" font-size="19" font-weight="normal" fill="#333" font-family="Liberation Sans" textLength="27" lengthAdjust="spacingAndGlyphs">210</text>
<path d="M605.5,765.8 H762.5 V827.5 M683.75,765.8 V827.5" stroke="#333" stroke-width="1.4" fill="none"/>
<path d="M615.5,772 H675 V827.5" stroke="#333" stroke-width="1.4" fill="none" stroke-dasharray="6 3"/>
<text x="645.00" y="805.00" font-size="15" font-weight="normal" fill="#444" text-anchor="middle" font-family="Liberation Sans" >H</text>
<rect x="689.5" y="771" width="31.75" height="47" fill="none" stroke="#333" stroke-width="1.5"/>
<line x1="727.50" y1="772.50" x2="758.75" y2="772.50" stroke="#555" stroke-width="1.8" />
<line x1="727.50" y1="780.00" x2="758.75" y2="780.00" stroke="#555" stroke-width="1.8" />
<line x1="727.50" y1="787.50" x2="758.75" y2="787.50" stroke="#555" stroke-width="1.8" />
<line x1="727.50" y1="795.00" x2="758.75" y2="795.00" stroke="#555" stroke-width="1.8" />
<line x1="727.50" y1="802.50" x2="758.75" y2="802.50" stroke="#555" stroke-width="1.8" />
<line x1="727.50" y1="810.00" x2="758.75" y2="810.00" stroke="#555" stroke-width="1.8" />
<line x1="727.50" y1="817.50" x2="758.75" y2="817.50" stroke="#555" stroke-width="1.8" />
<path d="M739.8,765.4 V699.4 H777 M744.8,765.4 V704.5 H796" stroke="#666" stroke-width="1.8" fill="none"/>
<rect x="747.6" y="706.8" width="42.6" height="47.7" rx="2" fill="none" stroke="#666" stroke-width="1.8"/>
<circle cx="758.5" cy="720.1" r="7.4" fill="none" stroke="#333" stroke-width="2"/>
<circle cx="779.2" cy="719.3" r="7" fill="none" stroke="#333" stroke-width="2"/>
<circle cx="758.5" cy="743.9" r="7" fill="none" stroke="#333" stroke-width="2"/>
<circle cx="779.2" cy="742.3" r="9" fill="none" stroke="#333" stroke-width="2"/>
<path d="M634.5,838.75 V856 A24.6,24 0 0 0 683.75,856 V838.75" stroke="#444" stroke-width="1.5" fill="none"/>
<ellipse cx="659.75" cy="860.6" rx="19.75" ry="13.1" fill="none" stroke="#222" stroke-width="1.8"/>
<path d="M659.5,843 V857" stroke="#333" stroke-width="2.5"/>
<ellipse cx="725.25" cy="879.5" rx="22.25" ry="18.4" fill="none" stroke="#222" stroke-width="1.8"/>
<path d="M747,868 L754.5,864 M747,891 L754.5,895" stroke="#333" stroke-width="1.4" fill="none"/>
<rect x="754.5" y="858.75" width="8" height="41.25" rx="2" fill="none" stroke="#333" stroke-width="1.5"/>
<rect x="762.50" y="872.50" width="2.50" height="15.00" fill="#222" />
<line x1="763.00" y1="838.50" x2="763.00" y2="920.00" stroke="#333" stroke-width="1.3" />
<path d="M616,967.4 H674.4 M616,973.2 H674.4 M674.4,966 V1029" stroke="#333" stroke-width="1.4" fill="none"/>
<text x="643.75" y="1006.00" font-size="15" font-weight="normal" fill="#444" text-anchor="middle" font-family="Liberation Sans" >M</text>
<path d="M674.4,966 C676,940 700,925 737.5,925.4" stroke="#444" stroke-width="1.4" fill="none"/>
<path d="M151,824.4 H437.3 V1272.8 H648.5 V1075 H774 " stroke="#222" stroke-width="2" fill="none" stroke-dasharray="14 4 3 4"/>
<path d="M774,1073.8 H829" stroke="#222" stroke-width="2" fill="none" stroke-dasharray="3 4"/>
<line x1="437.30" y1="866.50" x2="458.75" y2="866.50" stroke="#333" stroke-width="1.5" />
<line x1="437.30" y1="931.00" x2="458.75" y2="931.00" stroke="#333" stroke-width="1.5" />
<line x1="437.30" y1="962.50" x2="458.75" y2="962.50" stroke="#333" stroke-width="1.5" />
<line x1="437.30" y1="993.75" x2="458.75" y2="993.75" stroke="#333" stroke-width="1.5" />
<line x1="437.30" y1="1024.50" x2="458.75" y2="1024.50" stroke="#333" stroke-width="1.5" />
<line x1="437.30" y1="1055.50" x2="458.75" y2="1055.50" stroke="#333" stroke-width="1.5" />
<line x1="437.30" y1="1086.00" x2="458.75" y2="1086.00" stroke="#333" stroke-width="1.5" />
<line x1="437.30" y1="1116.50" x2="458.75" y2="1116.50" stroke="#333" stroke-width="1.5" />
<line x1="437.30" y1="1148.50" x2="458.75" y2="1148.50" stroke="#333" stroke-width="1.5" />
<path d="M457.5,890 L440,900 H457.5" stroke="#333" stroke-width="1.4" fill="none"/>
<text x="442.50" y="1023.00" font-size="14" font-weight="bold" fill="#333" text-anchor="middle" font-family="Liberation Sans" >Z</text>
<path d="M606.6,1030.9 L635.9,1062 L646.6,1073.8 M777.5,1063 L766.8,1073.8 M636,1062.5 L648,1075" stroke="#444" stroke-width="1" fill="none"/>
<path d="M469.3,1091.3 L625,1251 M625,1091.3 L469.3,1251" stroke="#222" stroke-width="1.2" fill="none"/>
<path d="M556.25,1091.25 L605.5,1135 H508.75 Z" fill="#000"/>
<path d="M509.5,1081 H605 M509.5,1091 H605 M510.5,1252 H603 M510.5,1260.6 H603" stroke="#333" stroke-width="1.3" fill="none" stroke-dasharray="8 4"/>
<text x="554.40" y="1157.50" font-size="16.5" font-weight="bold" fill="#333" text-anchor="middle" font-family="Liberation Sans" textLength="28.75" lengthAdjust="spacingAndGlyphs" >XIX.</text>
<text x="555.00" y="1176.30" font-size="16.5" font-weight="bold" fill="#333" text-anchor="middle" font-family="Liberation Sans" textLength="32.5" lengthAdjust="spacingAndGlyphs" >LIFT</text>
<text x="555.00" y="1196.30" font-size="16.5" font-weight="normal" fill="#444" text-anchor="middle" font-family="Liberation Sans" >2,48 m<tspan font-size="10" dy="-7">2</tspan></text>
<path d="M454.4,1265.4 L469,1250.8 M441,1276 L456,1262" stroke="#444" stroke-width="1"/>
<text x="633.50" y="539.00" font-size="14.5" font-weight="bold" fill="#222" text-anchor="middle" font-family="Liberation Sans" textLength="37" lengthAdjust="spacingAndGlyphs" >1.8.3.</text>
<text x="633.75" y="559.00" font-size="14.5" font-weight="bold" fill="#222" text-anchor="middle" font-family="Liberation Sans" textLength="212.5" lengthAdjust="spacingAndGlyphs" >KONYHA-ÉTKEZŐ-NAPPALI</text>
<text x="632.75" y="577.50" font-size="15.5" font-weight="normal" fill="#3a3a3a" text-anchor="middle" font-family="Liberation Sans" textLength="117.5" lengthAdjust="spacingAndGlyphs" >laminált parketta</text>
<text x="634.25" y="596.00" font-size="16.5" font-weight="normal" fill="#3a3a3a" text-anchor="middle" font-family="Liberation Sans" >18,19 m<tspan font-size="10.5" dy="-7">2</tspan></text>
<text x="562.40" y="843.80" font-size="14.5" font-weight="bold" fill="#222" text-anchor="middle" font-family="Liberation Sans" textLength="38.2" lengthAdjust="spacingAndGlyphs" >1.8.1.</text>
<text x="562.80" y="861.80" font-size="14.5" font-weight="bold" fill="#222" text-anchor="middle" font-family="Liberation Sans" textLength="64.6" lengthAdjust="spacingAndGlyphs" >ELŐTÉR</text>
<text x="562.40" y="881.60" font-size="15.5" font-weight="normal" fill="#3a3a3a" text-anchor="middle" font-family="Liberation Sans" textLength="51.4" lengthAdjust="spacingAndGlyphs" >greslap</text>
<text x="562.40" y="901.00" font-size="16.5" font-weight="normal" fill="#3a3a3a" text-anchor="middle" font-family="Liberation Sans" >3,97 m<tspan font-size="10.5" dy="-7">2</tspan></text>
<text x="677.40" y="923.75" font-size="14.5" font-weight="bold" fill="#222" text-anchor="middle" font-family="Liberation Sans" textLength="40" lengthAdjust="spacingAndGlyphs" >1.8.2.</text>
<text x="677.40" y="943.75" font-size="14.5" font-weight="bold" fill="#222" text-anchor="middle" font-family="Liberation Sans" textLength="55.6" lengthAdjust="spacingAndGlyphs" >FÜRDŐ</text>
<text x="677.40" y="962.50" font-size="15.5" font-weight="normal" fill="#3a3a3a" text-anchor="middle" font-family="Liberation Sans" textLength="51.8" lengthAdjust="spacingAndGlyphs" >greslap</text>
<text x="677.40" y="982.50" font-size="16.5" font-weight="normal" fill="#3a3a3a" text-anchor="middle" font-family="Liberation Sans" >2,85 m<tspan font-size="10.5" dy="-7">2</tspan></text>
<text x="247.30" y="867.70" font-size="42.5" font-weight="bold" fill="#111" text-anchor="start" font-family="Liberation Sans" textLength="171.5" lengthAdjust="spacingAndGlyphs" >1.8.lakás</text>
<text x="272.30" y="911.30" font-size="33" font-weight="bold" fill="#111" text-anchor="start" font-family="Liberation Sans" textLength="141.5" lengthAdjust="spacingAndGlyphs" >25,01 m2</text>
<text x="285.50" y="815.20" font-size="28.5" font-weight="normal" fill="#333" text-anchor="start" font-family="Liberation Sans" textLength="55.5" lengthAdjust="spacingAndGlyphs" >+8,80</text>
<path d="M259.4,804.2 L259.4,794.2 A10,10 0 0 1 269.4,804.2 Z M259.4,804.2 L259.4,814.2 A10,10 0 0 1 249.4,804.2 Z" fill="#000"/>
<circle cx="259.4" cy="804.2" r="9.6" fill="none" stroke="#111" stroke-width="1.6"/>
<path d="M239,804.2 H279 M259.4,783 V822" stroke="#111" stroke-width="1.5"/>
<path d="M377.5,725 L419.7,775.6 L377.5,828 Z" fill="#000"/>
<path d="M940,384.5 L946.75,402 L908,457 Z" fill="#fff" stroke="#000" stroke-width="1.6" stroke-linejoin="miter"/>
<path d="M946.75,402 L966.75,405 L908,457 Z" fill="#000" stroke="#000" stroke-width="1"/>
<text transform="translate(897,473.4) rotate(-144.4)" font-size="35" font-family="Liberation Sans" fill="#111" text-anchor="middle" y="12.5">É</text>
<text x="837.30" y="1068.00" font-size="28" font-weight="normal" fill="#333" text-anchor="start" font-family="Liberation Sans" textLength="96" lengthAdjust="spacingAndGlyphs" >M=1:50</text>
<text transform="translate(870.00,832.00) rotate(-90)" font-size="13" font-weight="normal" fill="#444" font-family="Liberation Sans">150</text>
<path d="M807,866 H829 M807,871 H829 M807,878 H829 M807,882 H829 M807,888 H829 M807,893 H829" stroke="#555" stroke-width="1.2"/>
<text x="30.40" y="87.90" font-size="24" font-weight="bold" fill="#111" text-anchor="start" font-family="Liberation Sans" textLength="142" lengthAdjust="spacingAndGlyphs" >Helyiséglista</text>
<text x="38.00" y="120.10" font-size="20.5" font-weight="bold" fill="#111" text-anchor="start" font-family="Liberation Sans" textLength="116" lengthAdjust="spacingAndGlyphs" >1.8. - LAKÁS</text>
<text x="37.50" y="148.90" font-size="21.5" font-weight="normal" fill="#333" text-anchor="start" font-family="Liberation Sans" textLength="48.75" lengthAdjust="spacingAndGlyphs" >1.8.1.</text>
<text x="128.75" y="148.90" font-size="21.5" font-weight="normal" fill="#333" text-anchor="start" font-family="Liberation Sans" textLength="68.75" lengthAdjust="spacingAndGlyphs" >ELŐTÉR</text>
<text x="403.75" y="148.90" font-size="21.5" font-weight="normal" fill="#333" text-anchor="start" font-family="Liberation Sans" textLength="75" lengthAdjust="spacingAndGlyphs" >3,97 m2</text>
<text x="37.50" y="176.30" font-size="21.5" font-weight="normal" fill="#333" text-anchor="start" font-family="Liberation Sans" textLength="48.75" lengthAdjust="spacingAndGlyphs" >1.8.2.</text>
<text x="128.75" y="176.30" font-size="21.5" font-weight="normal" fill="#333" text-anchor="start" font-family="Liberation Sans" textLength="66" lengthAdjust="spacingAndGlyphs" >FÜRDŐ</text>
<text x="403.75" y="176.30" font-size="21.5" font-weight="normal" fill="#333" text-anchor="start" font-family="Liberation Sans" textLength="75" lengthAdjust="spacingAndGlyphs" >2,85 m2</text>
<text x="37.50" y="204.60" font-size="21.5" font-weight="normal" fill="#333" text-anchor="start" font-family="Liberation Sans" textLength="48.75" lengthAdjust="spacingAndGlyphs" >1.8.3.</text>
<text x="128.75" y="204.60" font-size="21.5" font-weight="normal" fill="#333" text-anchor="start" font-family="Liberation Sans" textLength="256" lengthAdjust="spacingAndGlyphs" >KONYHA-ÉTKEZŐ-NAPPALI</text>
<text x="403.75" y="204.60" font-size="21.5" font-weight="normal" fill="#333" text-anchor="start" font-family="Liberation Sans" textLength="86.75" lengthAdjust="spacingAndGlyphs" >18,19 m2</text>
<line x1="36.00" y1="207.30" x2="492.20" y2="207.30" stroke="#555" stroke-width="2" />
<text x="403.30" y="231.00" font-size="21.5" font-weight="bold" fill="#111" text-anchor="start" font-family="Liberation Sans" textLength="88.4" lengthAdjust="spacingAndGlyphs" >25,01 m2</text>
</svg>
<div id="rbar"></div><div id="bline"></div>
</body></html>
